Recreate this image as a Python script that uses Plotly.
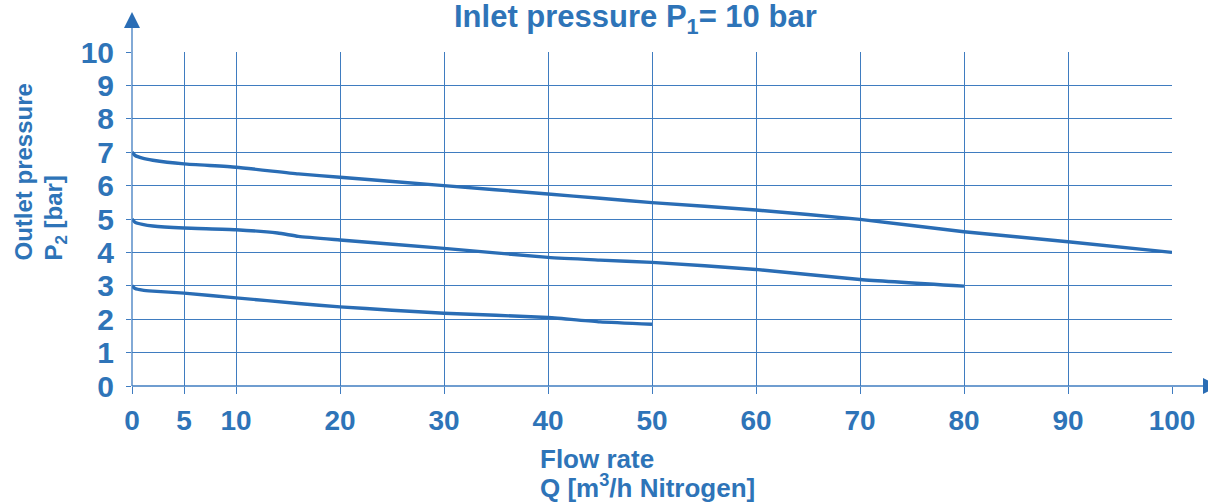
import plotly.graph_objects as go

# ---- data ----
q_p7 = [0, 0.3, 1, 2, 5, 10, 16, 20, 30, 40, 45, 50, 60, 70, 80, 90, 100]
p_p7 = [7.0, 6.9, 6.82, 6.76, 6.65, 6.55, 6.35, 6.25, 6.0, 5.75, 5.62, 5.49, 5.27, 4.99, 4.62, 4.32, 4.0]

q_p5 = [0, 0.3, 1, 2, 5, 10, 14, 16, 20, 30, 40, 45, 50, 60, 70, 80]
p_p5 = [5.0, 4.9, 4.84, 4.79, 4.73, 4.68, 4.58, 4.48, 4.37, 4.12, 3.85, 3.77, 3.70, 3.49, 3.19, 2.99]

q_p3 = [0, 0.3, 1, 2, 5, 10, 16, 20, 25, 30, 40, 45, 50]
p_p3 = [3.0, 2.92, 2.87, 2.84, 2.78, 2.64, 2.47, 2.37, 2.27, 2.18, 2.05, 1.92, 1.85]

x_ticks = [0, 5, 10, 20, 30, 40, 50, 60, 70, 80, 90, 100]
y_ticks = [0, 1, 2, 3, 4, 5, 6, 7, 8, 9, 10]

title_text = "Inlet pressure P<sub>1</sub>= 10 bar"
x_title_1 = "Flow rate"
x_title_2 = "Q [m<sup>3</sup>/h Nitrogen]"
y_title_1 = "Outlet pressure"
y_title_2 = "P<sub>2</sub> [bar]"

# ---- style ----
TXT = "#2E74B8"
LINE = "#2A6DB5"
GRID = "#3F7CC0"
FONT = "Liberation Sans, Arial, sans-serif"

W, H = 1208, 504
L, R, T, B = 132, 36, 52, 118
PW, PH = W - L - R, H - T - B


def px_x(px):
    return (px - L) / PW


def px_y(py):
    return (H - B - py) / PH


fig = go.Figure()
for q, p in [(q_p7, p_p7), (q_p5, p_p5), (q_p3, p_p3)]:
    fig.add_trace(go.Scatter(x=q, y=p, mode="lines",
                             line=dict(color=LINE, width=3.4, shape="spline", smoothing=0.5),
                             showlegend=False, hoverinfo="skip"))

fig.update_xaxes(range=[0, 100], tickvals=x_ticks, ticktext=[str(v) for v in x_ticks],
                 showgrid=True, gridcolor=GRID, gridwidth=1, zeroline=False, automargin=False,
                 showline=False, ticks="outside", ticklen=7, tickcolor=GRID, tickwidth=1,
                 tickfont=dict(family=FONT, size=28, color=TXT, weight="bold"),
                 ticklabelstandoff=2, fixedrange=True)
fig.update_yaxes(range=[0, 10], tickvals=y_ticks, ticktext=[str(v) for v in y_ticks],
                 showgrid=True, gridcolor=GRID, gridwidth=1, zeroline=False, automargin=False,
                 showline=False, ticks="outside", ticklen=5, tickcolor=GRID, tickwidth=1,
                 tickfont=dict(family=FONT, size=30, color=TXT, weight="bold"),
                 ticklabelstandoff=6, fixedrange=True)

# axis lines extending to arrows (paper refs so they are not clipped)
fig.add_shape(type="line", xref="paper", yref="paper", xsizemode="pixel", xanchor=0,
              x0=0, x1=1071, y0=0, y1=0, line=dict(color=GRID, width=1.3))
fig.add_shape(type="line", xref="paper", yref="paper", ysizemode="pixel", yanchor=0,
              x0=0, x1=0, y0=0, y1=358, line=dict(color=GRID, width=1.3))
# arrow heads
fig.add_shape(type="path", xref="paper", yref="paper", xsizemode="pixel", ysizemode="pixel",
              xanchor=0, yanchor=1, path="M -8 24 L 8 24 L 0 40 Z",
              fillcolor=LINE, line=dict(color=LINE, width=0))
fig.add_shape(type="path", xref="paper", yref="paper", xsizemode="pixel", ysizemode="pixel",
              xanchor=1, yanchor=0, path="M 31 -8 L 31 8 L 47 0 Z",
              fillcolor=LINE, line=dict(color=LINE, width=0))

# texts
fig.add_annotation(text=title_text, xref="paper", yref="paper", x=px_x(635), y=px_y(19),
                   xanchor="center", yanchor="middle", showarrow=False,
                   font=dict(family=FONT, size=31, color=TXT, weight="bold"))
fig.add_annotation(text=x_title_1, xref="paper", yref="paper", x=px_x(538), y=px_y(459),
                   xanchor="left", yanchor="middle", showarrow=False,
                   font=dict(family=FONT, size=26, color=TXT, weight="bold"))
fig.add_annotation(text=x_title_2, xref="paper", yref="paper", x=px_x(538), y=px_y(487),
                   xanchor="left", yanchor="middle", showarrow=False,
                   font=dict(family=FONT, size=26, color=TXT, weight="bold"))
fig.add_annotation(text=y_title_1, xref="paper", yref="paper", x=px_x(23), y=px_y(263),
                   xanchor="center", yanchor="bottom", textangle=-90, showarrow=False,
                   font=dict(family=FONT, size=24, color=TXT, weight="bold"))
fig.add_annotation(text=y_title_2, xref="paper", yref="paper", x=px_x(55), y=px_y(263),
                   xanchor="center", yanchor="bottom", textangle=-90, showarrow=False,
                   font=dict(family=FONT, size=24, color=TXT, weight="bold"))

fig.update_layout(width=W, height=H, margin=dict(l=L, r=R, t=T, b=B, autoexpand=False),
                  paper_bgcolor="white", plot_bgcolor="white", showlegend=False)

fig.write_html("out.html", config={"displayModeBar": False},
               post_script="document.body.style.margin='0';document.body.style.overflow='hidden';")
